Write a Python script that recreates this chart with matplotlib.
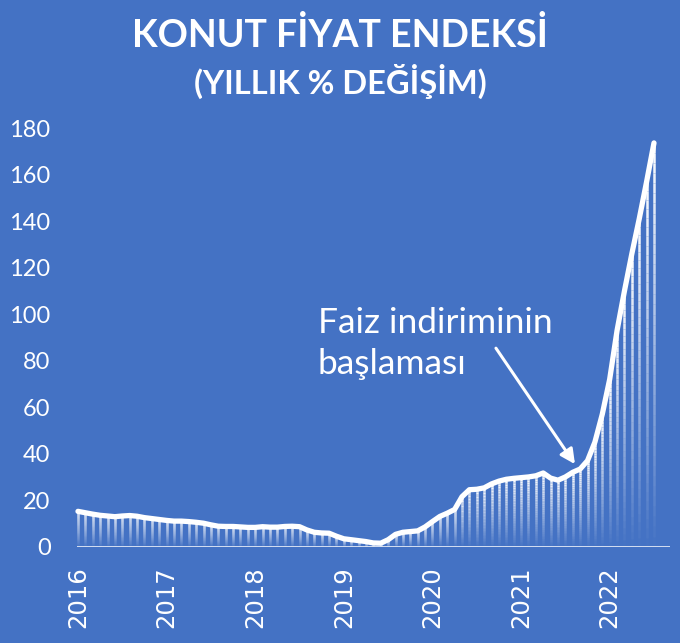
import numpy as np
import matplotlib
matplotlib.use("Agg")
import matplotlib.pyplot as plt
from matplotlib.collections import LineCollection

# Yıllık % değişim, aylık (Ocak 2016 - Temmuz 2022)
yillik_degisim = [
    15.2, 14.6, 14.0, 13.5, 13.2, 12.9, 13.2, 13.4, 13.1, 12.5, 12.1, 11.7,
    11.3, 11.0, 11.0, 10.8, 10.5, 10.1, 9.4, 8.8, 8.7, 8.7, 8.5, 8.3,
    8.3, 8.6, 8.4, 8.4, 8.7, 8.8, 8.6, 7.2, 6.2, 5.9, 5.8, 4.5,
    3.4, 3.0, 2.6, 2.2, 1.6, 1.5, 3.0, 5.3, 6.2, 6.5, 6.8, 8.5,
    10.8, 13.0, 14.4, 16.0, 21.5, 24.5, 24.7, 25.3, 27.0, 28.2, 29.0, 29.4,
    29.7, 30.0, 30.5, 31.7, 29.5, 28.6, 30.0, 32.0, 33.4, 37.0, 45.0, 57.0,
    72.0, 93.0, 110.0, 126.0, 141.0, 157.0, 173.7,
]
yillar = ["2016", "2017", "2018", "2019", "2020", "2021", "2022"]
y_ticks = [0, 20, 40, 60, 80, 100, 120, 140, 160, 180]

baslik = "KONUT FİYAT ENDEKSİ"
alt_baslik = "(YILLIK % DEĞİŞİM)"
not_metni = "Faiz indiriminin\nbaşlaması"

bg = "#4472C4"
x = np.arange(len(yillik_degisim))
y = np.array(yillik_degisim)

fig = plt.figure(figsize=(6.8, 6.43), dpi=100, facecolor=bg)
ax = fig.add_axes([0.1132, 0.1498, 0.872, 0.6507])
ax.set_facecolor(bg)

# Alttan şeffaflaşan ince dikey çubuklar
n = 40
segs, cols = [], []
for xi, yi in zip(x, y):
    edges = np.linspace(0, yi, n + 1)
    for k in range(n):
        segs.append([(xi, edges[k]), (xi, edges[k + 1])])
        a = ((k + 0.5) / n) ** 1.0
        cols.append((1, 1, 1, a))
lc = LineCollection(segs, colors=cols, linewidths=1.8, capstyle="butt", zorder=2)
ax.add_collection(lc)

ax.axhline(0, color="white", lw=1.8, zorder=3)
ax.plot(x, y, color="white", lw=3.8, solid_capstyle="round",
        solid_joinstyle="round", zorder=4, clip_on=False)

ax.set_xlim(-0.135, 80.16)
ax.set_ylim(0, 180)
ax.set_yticks(y_ticks)
ax.set_yticklabels([str(v) for v in y_ticks], family="Lato", fontsize=17, color="white")
ax.set_xticks(np.arange(len(yillar)) * 12)
ax.set_xticklabels(yillar, rotation=90, family="DejaVu Sans", fontsize=17.5, color="white")
ax.tick_params(axis="x", length=0, pad=14)
ax.tick_params(axis="y", length=0, pad=19)
for s in ax.spines.values():
    s.set_visible(False)

fig.text(0.5, 0.945, baslik, ha="center", va="center", family="Lato",
         fontweight="bold", fontsize=27, color="white")
fig.text(0.5, 0.874, alt_baslik, ha="center", va="center", family="Lato",
         fontweight="bold", fontsize=23.5, color="white")

ax.text(32.5, 87.5, not_metni, ha="left", va="center", family="Lato",
        fontsize=25.5, color="white", linespacing=1.33, zorder=5)
ax.annotate("", xy=(67.3, 35.5), xytext=(56.6, 85.4),
            arrowprops=dict(arrowstyle="-|>", color="white", lw=2.2,
                            mutation_scale=22, shrinkA=0, shrinkB=0),
            zorder=5)

fig.savefig("out.png", dpi=100, facecolor=bg)
